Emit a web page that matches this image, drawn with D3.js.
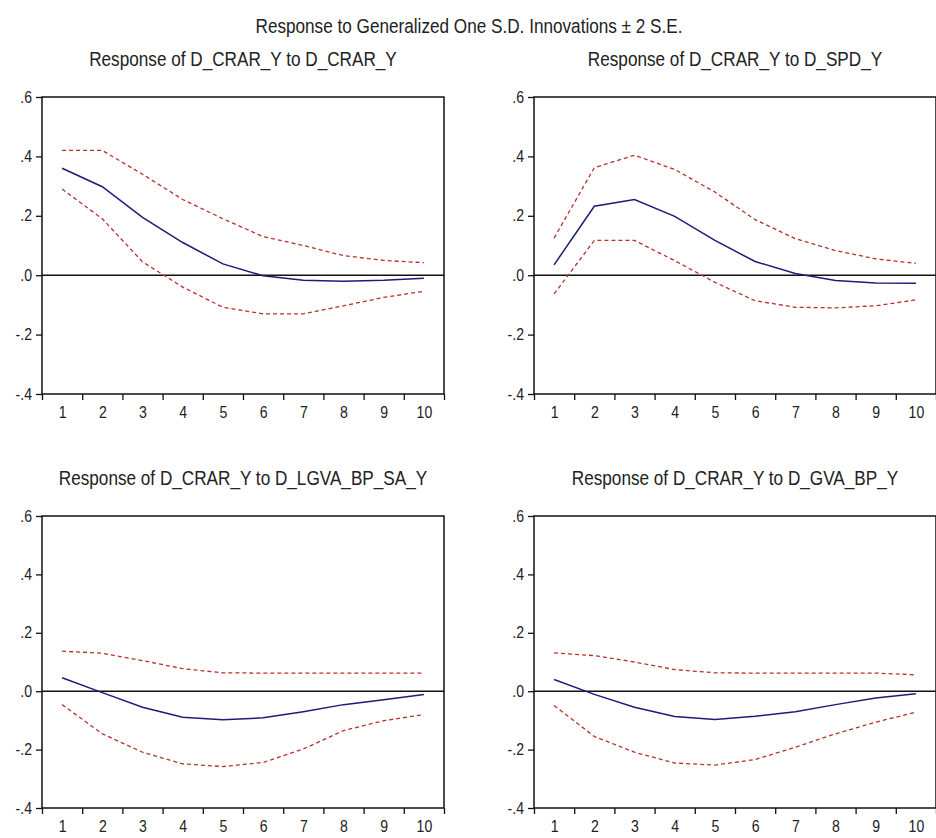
<!DOCTYPE html>
<html>
<head>
<meta charset="utf-8">
<script src="https://cdn.jsdelivr.net/npm/d3@7"></script>
<style>
	body { margin: 0; background: #fff; }
	svg { display: block; }
	text { font-family: "Liberation Sans", Arial, sans-serif; fill: #222; }
</style>
</head>
<body>
<svg id="irf" width="936" height="838"></svg>
<script>
(function(){

	// horizon and y axis
	var periods = [1, 2, 3, 4, 5, 6, 7, 8, 9, 10];
	var yTicks = [0.6, 0.4, 0.2, 0, -0.2, -0.4];
	var yTickLabels = [".6", ".4", ".2", ".0", "-.2", "-.4"];

	var mainTitle = "Response to Generalized One S.D. Innovations \u00b1 2 S.E.";
	var panelTitles = [
		"Response of D_CRAR_Y to D_CRAR_Y",
		"Response of D_CRAR_Y to D_SPD_Y",
		"Response of D_CRAR_Y to D_LGVA_BP_SA_Y",
		"Response of D_CRAR_Y to D_GVA_BP_Y"
	];

	// response and +/- 2 S.E. bands
	var crarResp  = [0.36, 0.298, 0.195, 0.11, 0.038, -0.002, -0.017, -0.02, -0.017, -0.01];
	var crarUpper = [0.42, 0.42, 0.34, 0.255, 0.19, 0.13, 0.10, 0.066, 0.05, 0.042];
	var crarLower = [0.29, 0.19, 0.045, -0.04, -0.108, -0.13, -0.13, -0.103, -0.075, -0.054];

	var spdResp  = [0.035, 0.232, 0.255, 0.198, 0.117, 0.046, 0.006, -0.018, -0.026, -0.027];
	var spdUpper = [0.125, 0.362, 0.404, 0.356, 0.28, 0.187, 0.123, 0.083, 0.055, 0.04];
	var spdLower = [-0.063, 0.117, 0.117, 0.049, -0.024, -0.086, -0.108, -0.11, -0.103, -0.083];

	var lgvaResp  = [0.046, -0.005, -0.055, -0.089, -0.098, -0.091, -0.07, -0.046, -0.029, -0.011];
	var lgvaUpper = [0.137, 0.13, 0.105, 0.077, 0.063, 0.062, 0.062, 0.062, 0.062, 0.062];
	var lgvaLower = [-0.046, -0.146, -0.209, -0.249, -0.258, -0.244, -0.198, -0.135, -0.101, -0.08];

	var gvaResp  = [0.04, -0.011, -0.055, -0.087, -0.097, -0.086, -0.07, -0.046, -0.023, -0.009];
	var gvaUpper = [0.131, 0.122, 0.1, 0.074, 0.063, 0.062, 0.062, 0.062, 0.062, 0.056];
	var gvaLower = [-0.049, -0.155, -0.209, -0.246, -0.253, -0.234, -0.192, -0.146, -0.106, -0.072];

	var panels = [
		{title: panelTitles[0], resp: crarResp, upper: crarUpper, lower: crarLower, col: 0, row: 0},
		{title: panelTitles[1], resp: spdResp, upper: spdUpper, lower: spdLower, col: 1, row: 0},
		{title: panelTitles[2], resp: lgvaResp, upper: lgvaUpper, lower: lgvaLower, col: 0, row: 1},
		{title: panelTitles[3], resp: gvaResp, upper: gvaUpper, lower: gvaLower, col: 1, row: 1}
	];

	// layout
	var colLeft = [42, 534];
	var rowTop = [97, 516];
	var rowHeight = [297, 292];
	var panelWidth = 402;
	var squeeze = 0.88; // the original text is a bit narrow

	var svg = d3.select("#irf");

	svg.append("text")
		.attr("transform", "translate(469,33) scale(" + squeeze + ",1)")
		.attr("text-anchor", "middle")
		.style("font-size", "19.5px")
		.text(mainTitle);

	panels.forEach(draw_panel);

	function draw_panel(p){
		var width = panelWidth;
		var height = rowHeight[p.row];

		var g = svg.append("g")
			.attr("transform", "translate(" + colLeft[p.col] + "," + rowTop[p.row] + ")");

		var x = d3.scaleLinear()
			.domain([0.5, 10.5])
			.range([0, width]);

		var y = d3.scaleLinear()
			.domain([-0.4, 0.6])
			.range([height, 0]);

		// title
		g.append("text")
			.attr("transform", "translate(" + (width / 2) + ",-31) scale(" + squeeze + ",1)")
			.attr("text-anchor", "middle")
			.style("font-size", "19.5px")
			.text(p.title);

		// y axis
		var yAxis = g.append("g")
			.call(d3.axisLeft(y)
				.tickValues(yTicks)
				.tickSize(6)
				.tickFormat(function(d, i){ return yTickLabels[i]; }));
		yAxis.select(".domain").remove();
		yAxis.selectAll("line").attr("stroke", "#111").attr("stroke-width", 1.3);
		yAxis.selectAll("text")
			.attr("x", -10 / squeeze)
			.attr("transform", "scale(" + squeeze + ",1)")
			.style("font-size", "16px")
			.style("font-family", "'Liberation Sans', Arial, sans-serif")
			.attr("fill", "#333");

		// x axis: tick marks between periods, labels on periods
		var xAxis = g.append("g")
			.attr("transform", "translate(0," + height + ")")
			.call(d3.axisBottom(x)
				.tickValues(d3.range(0.5, 11, 1))
				.tickSize(6)
				.tickFormat(""));
		xAxis.select(".domain").remove();
		xAxis.selectAll("line").attr("stroke", "#111").attr("stroke-width", 1.3);

		var xLabels = g.append("g")
			.attr("transform", "translate(0," + height + ")")
			.call(d3.axisBottom(x)
				.tickValues(periods)
				.tickSize(0)
				.tickPadding(13)
				.tickFormat(d3.format("d")));
		xLabels.select(".domain").remove();
		xLabels.selectAll("text")
			.attr("transform", "scale(" + squeeze + ",1)")
			.style("font-size", "16px")
			.style("font-family", "'Liberation Sans', Arial, sans-serif")
			.attr("fill", "#333");

		// zero line
		g.append("line")
			.attr("x1", 0)
			.attr("x2", width)
			.attr("y1", y(0))
			.attr("y2", y(0))
			.attr("stroke", "#111")
			.attr("stroke-width", 1.5);

		var line = d3.line()
			.x(function(d, i){ return x(periods[i]); })
			.y(function(d){ return y(d); });

		g.append("path")
			.datum(p.upper)
			.attr("d", line)
			.attr("fill", "none")
			.attr("stroke", "#b8312b")
			.attr("stroke-width", 1.3)
			.attr("stroke-dasharray", "4,3");

		g.append("path")
			.datum(p.lower)
			.attr("d", line)
			.attr("fill", "none")
			.attr("stroke", "#b8312b")
			.attr("stroke-width", 1.3)
			.attr("stroke-dasharray", "4,3");

		g.append("path")
			.datum(p.resp)
			.attr("d", line)
			.attr("fill", "none")
			.attr("stroke", "#1c1c78")
			.attr("stroke-width", 1.5);

		// frame
		g.append("rect")
			.attr("x", 0)
			.attr("y", 0)
			.attr("width", width)
			.attr("height", height)
			.attr("fill", "none")
			.attr("stroke", "#111")
			.attr("stroke-width", 1.5);
	}

})();
</script>
</body>
</html>
